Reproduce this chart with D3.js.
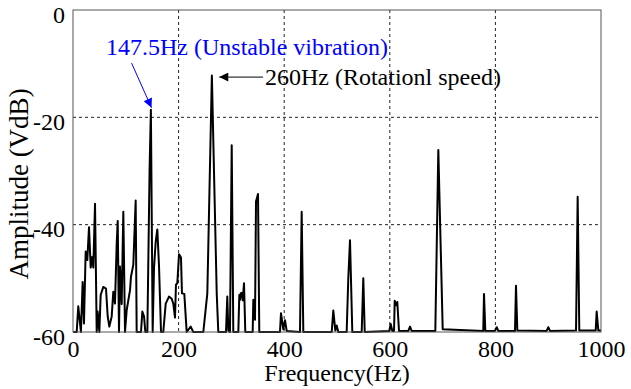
<!DOCTYPE html>
<meta charset="utf-8">
<style>
  body { margin: 0; background: white; }
  text { font-family: "Liberation Serif", "Times New Roman", serif; }
</style>

<!-- Load d3.js -->
<script src="https://d3js.org/d3.v7.min.js"></script>

<!-- Create a div where the graph will take place -->
<div id="my_dataviz"></div>

<script>
    // spectrum: frequency (Hz) and amplitude (VdB)
    var freq = [0.6, 7, 10, 15, 18.3, 20.8, 24, 27.1, 30.3, 33.5, 36.6, 38.5, 41.7, 44.9, 46.7, 49.9,
      52.4, 57.4, 62.5, 65.7, 68.8, 73.3, 76.3, 79.5, 82.8, 84.7, 87.1, 89, 92.2, 95.3, 98.5,
      101.7, 108, 109.8, 114.2, 118.7, 120.6, 128.8, 131.3, 134.5, 137, 140.8, 145, 147.5, 150.9,
      153.4, 156.6, 159.7, 162.9, 166.7, 171, 175.6, 181.8, 186.9, 190, 193.2, 195, 197.6, 200.8,
      204.5, 206.4, 210.8, 215.3, 222.9, 227.8, 246.8, 254.4, 263, 272.2, 275.2, 289.8, 292.2,
      294.2, 297.3, 300.6, 303.6, 313.1, 315, 316.3, 317.6, 319.5, 321.4, 323.9, 326.3, 340.3,
      341.5, 344.7, 346.6, 350.4, 352.8, 392, 393.9, 398.3, 401.5, 404.7, 429.9, 433.1, 436.2,
      490, 493, 496.8, 499.4, 502.5, 518.3, 521.4, 524.6, 529, 546.8, 549.8, 552.5, 599, 601.7,
      604.8, 608, 609.3, 611.7, 614.2, 617.4, 635, 638.3, 641.4, 686.2, 691.9, 700.2, 777, 778.4,
      780.9, 799.2, 802.5, 805.5, 837.1, 839, 841.5, 897, 900.2, 903.4, 952.7, 955.8, 958.9, 990,
      991.8, 994.9, 1000];
    var amp = [-60, -60, -55.2, -60, -50.7, -58.4, -45, -46.6, -40.5, -48, -46, -48, -36.1, -60, -56.2, -60,
      -53.1, -51.6, -51.9, -57.1, -59, -57.1, -52.5, -54.7, -43.5, -39.3, -60, -47.8, -54.8, -37.6, -60,
      -55.9, -52.2, -49.7, -47.5, -35.5, -60, -60, -56.2, -57.1, -60, -60, -30, -18.6, -60,
      -48.1, -43.2, -40.9, -47.7, -60, -60, -54.7, -53.4, -53.8, -54.7, -57.3, -51.2, -50.9, -45.5,
      -46.1, -52.8, -52.9, -60, -59, -60, -60, -52.8, -12.2, -52.8, -60, -60, -53.4,
      -59.7, -60, -25.2, -60, -60, -53.1, -54, -52.8, -52.7, -54.1, -50.9, -60, -60,
      -54, -57.7, -35.7, -34.3, -60, -60, -56.5, -59.5, -57.8, -59.8, -60, -37.6, -60,
      -60, -56, -59.7, -58.8, -60, -60, -50, -42.9, -60, -60, -50, -60, -59.8, -58.5,
      -59.8, -59.8, -54.2, -55, -54.4, -59.8, -59.8, -59, -59.8, -59.8, -26.1, -59.5, -59.8, -52.9,
      -59.8, -59.8, -59.1, -59.8, -59.8, -51.4, -59.7, -59.8, -59.1, -59.8, -59.7, -34.8, -59.7, -59.7,
      -56.2, -59.7, -59.7];

    // axis ticks
    var xTicks = [0, 200, 400, 600, 800, 1000];
    var yTicks = [0, -20, -40, -60];

    // annotations: label text, label anchor, arrow start and arrow tip (Hz, VdB)
    var noteText  = ["147.5Hz (Unstable vibration)", "260Hz (Rotationl speed)"];
    var noteColor = ["blue", "black"];
    var noteLabel = [[62.5, -8.3], [363.6, -14.0]];
    var noteFrom  = [[111, -9.9], [360, -12.5]];
    var noteTo    = [[148.7, -18.2], [277, -12.5]];

    // set the dimensions and margins of the graph
    var margin = {top: 10, right: 30, bottom: 57, left: 73},
        width = 631 - margin.left - margin.right,
        height = 389 - margin.top - margin.bottom;

    var svg = d3.select("#my_dataviz")
      .append("svg")
        .attr("width", 631)
        .attr("height", 389)
      .append("g")
        .attr("transform", "translate(" + margin.left + "," + margin.top + ")");

    var x = d3.scaleLinear().domain([0, 1000]).range([0, width]);
    var y = d3.scaleLinear().domain([-60, 0]).range([height, 0]);

    // dashed grid
    svg.append("g")
      .selectAll("line")
      .data(xTicks.filter(function(d) { return d > 0 && d < 1000; }))
      .enter().append("line")
        .attr("x1", function(d) { return x(d); })
        .attr("x2", function(d) { return x(d); })
        .attr("y1", 0).attr("y2", height)
        .attr("stroke", "#222").attr("stroke-width", 1)
        .attr("stroke-dasharray", "3,3");
    svg.append("g")
      .selectAll("line")
      .data(yTicks.filter(function(d) { return d > -60 && d < 0; }))
      .enter().append("line")
        .attr("x1", 0).attr("x2", width)
        .attr("y1", function(d) { return y(d); })
        .attr("y2", function(d) { return y(d); })
        .attr("stroke", "#222").attr("stroke-width", 1)
        .attr("stroke-dasharray", "3,3");

    // axes, frame drawn separately; plain hyphen minus, no thousands comma
    var plain = function(d) { return String(d); };
    svg.append("g")
      .attr("transform", "translate(0," + height + ")")
      .call(d3.axisBottom(x).tickValues(xTicks).tickFormat(plain).tickSize(0).tickPadding(8));
    svg.append("g")
      .call(d3.axisLeft(y).tickValues(yTicks).tickFormat(plain).tickSize(0).tickPadding(8))
      .selectAll(".tick text").attr("dy", "0.5em");
    svg.selectAll(".domain").remove();
    svg.selectAll(".tick text")
      .style("font-family", "Liberation Serif")
      .style("font-size", "24px")
      .style("fill", "black");

    // the spectrum
    var data = freq.map(function(f, i) { return {f: f, a: amp[i]}; });
    svg.append("path")
      .datum(data)
      .attr("fill", "none")
      .attr("stroke", "black")
      .attr("stroke-width", 2)
      .attr("stroke-linejoin", "round")
      .attr("d", d3.line()
        .x(function(d) { return x(d.f); })
        .y(function(d) { return y(d.a); }));

    // frame
    svg.append("rect")
      .attr("width", width).attr("height", height)
      .attr("fill", "none")
      .attr("stroke", "#555").attr("stroke-width", 1);

    // axis titles
    svg.append("text")
      .attr("x", width / 2).attr("y", height + 49)
      .attr("text-anchor", "middle")
      .style("font-size", "24px")
      .text("Frequency(Hz)");
    svg.append("text")
      .attr("transform", "translate(" + (28 - margin.left) + "," + (height / 2 + 13) + ") rotate(-90)")
      .attr("text-anchor", "middle")
      .style("font-size", "27px")
      .text("Amplitude (VdB)");

    // arrow heads
    var defs = svg.append("defs");
    noteColor.forEach(function(c, i) {
      defs.append("marker")
        .attr("id", "head" + i)
        .attr("viewBox", "0 0 10 10")
        .attr("refX", 10).attr("refY", 5)
        .attr("markerUnits", "userSpaceOnUse")
        .attr("markerWidth", 17).attr("markerHeight", 9)
        .attr("orient", "auto")
        .append("path")
          .attr("d", "M0,0L10,5L0,10Z")
          .attr("fill", c);
    });

    // annotations
    noteText.forEach(function(t, i) {
      svg.append("line")
        .attr("x1", x(noteFrom[i][0])).attr("y1", y(noteFrom[i][1]))
        .attr("x2", x(noteTo[i][0])).attr("y2", y(noteTo[i][1]))
        .attr("stroke", noteColor[i]).attr("stroke-width", 1)
        .attr("marker-end", "url(#head" + i + ")");
      svg.append("text")
        .attr("x", x(noteLabel[i][0])).attr("y", y(noteLabel[i][1]))
        .style("font-size", "24px")
        .style("fill", noteColor[i])
        .text(t);
    });
</script>
